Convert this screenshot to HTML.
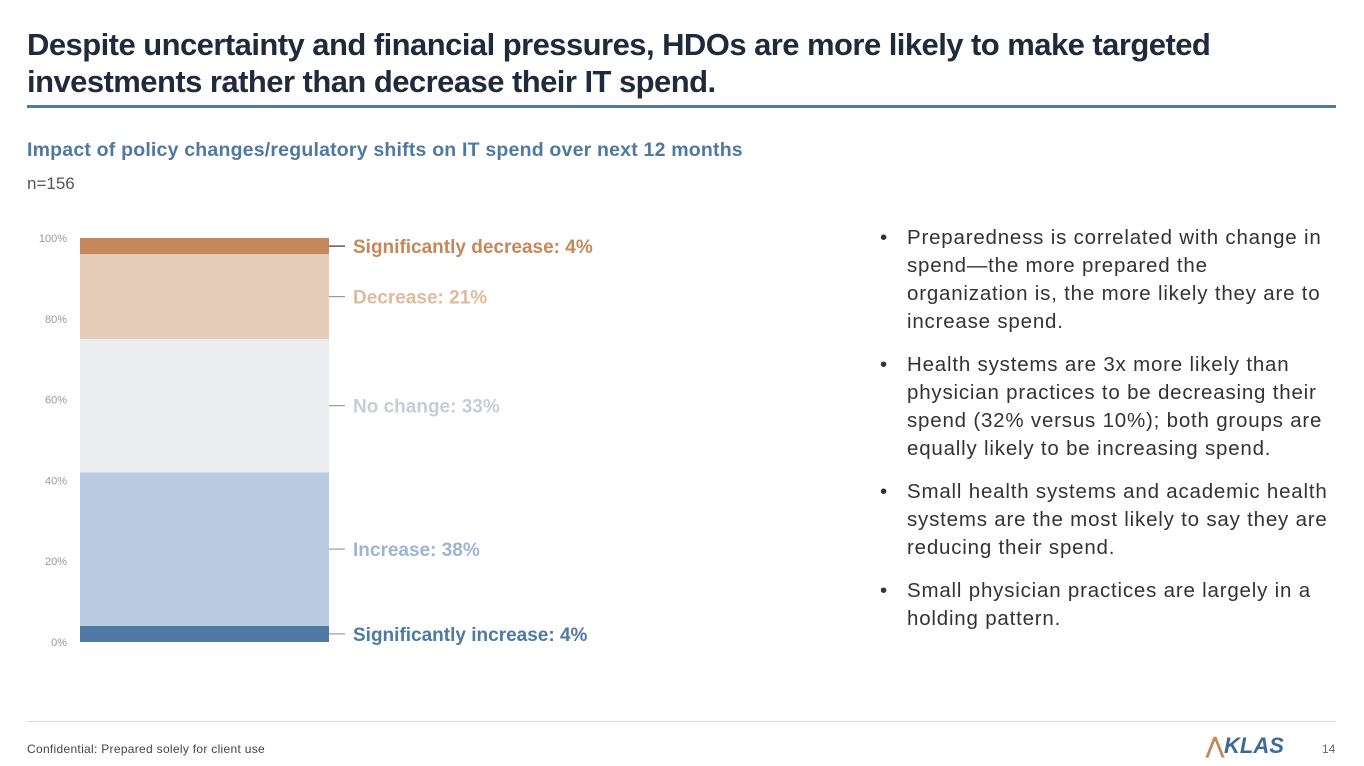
<!DOCTYPE html>
<html><head><meta charset="utf-8"><style>
body{margin:0;width:1364px;height:766px;background:#fff;font-family:"Liberation Sans",sans-serif;position:relative;overflow:hidden}
.t{position:absolute;left:27px;top:26px;font-size:31px;font-weight:bold;color:#1f2a3c;line-height:37px;letter-spacing:-0.55px}
.rule{position:absolute;left:27px;top:105px;width:1309px;height:3px;background:#5079a5}
.sub{position:absolute;left:27px;top:139px;font-size:19.5px;font-weight:bold;color:#4f78a3;letter-spacing:0.2px}
.n{position:absolute;left:27px;top:174px;font-size:17px;color:#555}
ul{position:absolute;left:880px;top:224px;margin:0;padding:0;list-style:none;width:470px}
li{position:relative;padding-left:27px;font-size:20.5px;line-height:28px;color:#333;margin-bottom:15px;white-space:nowrap;letter-spacing:0.8px}
li:before{content:"•";position:absolute;left:0;top:0}
.foot{position:absolute;left:27px;top:721px;width:1309px;height:1px;background:#ddd}
.conf{position:absolute;left:27px;top:742px;font-size:12px;color:#444;letter-spacing:0.3px}
.logo{position:absolute;left:1206px;top:733px;font-size:22px;font-weight:bold;font-style:italic;color:#3e6a98}
.pg{position:absolute;left:1322px;top:742px;font-size:12px;color:#666}
</style></head><body>
<div class="t">Despite uncertainty and financial pressures, HDOs are more likely to make targeted<br>investments rather than decrease their IT spend.</div>
<div class="rule"></div>
<div class="sub">Impact of policy changes/regulatory shifts on IT spend over next 12 months</div>
<div class="n">n=156</div>
<svg id="chart" width="700" height="700" style="position:absolute;left:0;top:0"></svg>
<ul>
<li>Preparedness is correlated with change in<br>spend—the more prepared the<br>organization is, the more likely they are to<br>increase spend.</li>
<li>Health systems are 3x more likely than<br>physician practices to be decreasing their<br>spend (32% versus 10%); both groups are<br>equally likely to be increasing spend.</li>
<li>Small health systems and academic health<br>systems are the most likely to say they are<br>reducing their spend.</li>
<li>Small physician practices are largely in a<br>holding pattern.</li>
</ul>
<div class="foot"></div>
<div class="conf">Confidential: Prepared solely for client use</div>
<div class="logo"><span style="color:#c4885a;font-style:normal">⋀</span>KLAS</div>
<div class="pg">14</div>
<script>
const categories=["Significantly increase","Increase","No change","Decrease","Significantly decrease"];
const values=[4,38,33,21,4];
const colors=["#5079a5","#b9cbe0","#ebedf0","#e6cdb9","#c4885a"];
const labelColors=["#4f78a3","#9db5d2","#c9cdd3","#ddbb9e","#c4885a"];
const ticks=[0,20,40,60,80,100];
const NS="http://www.w3.org/2000/svg",svg=document.getElementById("chart");
const y0=642,y1=238,x0=80,x1=329;
const total=values.reduce((a,b)=>a+b,0);
const y=v=>y0-(v/100)*(y0-y1);
function mk(t,a){const e=document.createElementNS(NS,t);for(const k in a)e.setAttribute(k,a[k]);svg.appendChild(e);return e;}
ticks.forEach(t=>{const e=mk("text",{x:67,y:y(t)+4,"text-anchor":"end","font-size":"11","fill":"#999","font-family":"Liberation Sans"});e.textContent=t+"%";

});
let cum=0;
values.forEach((v,i)=>{const p=v/total*100;const ya=y(cum+p),yb=y(cum);
const r=mk("rect",{x:x0,y:ya,width:x1-x0,height:yb-ya,fill:colors[i]});


const ym=(ya+yb)/2;
const l=mk("line",{x1:x1,x2:345,y1:ym,y2:ym,stroke:i==4?"#333":"#999","stroke-width":1.2});


const t=mk("text",{x:353,y:ym+7,"font-size":"19","font-weight":"bold",fill:labelColors[i],"font-family":"Liberation Sans"});
t.textContent=categories[i]+": "+v+"%";


cum+=p;});
</script>
</body></html>
